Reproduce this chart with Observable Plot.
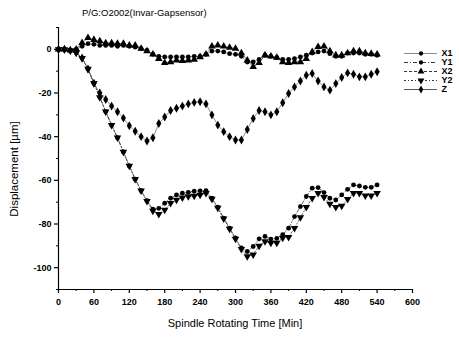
<!DOCTYPE html>
<html><head><meta charset="utf-8">
<script src="https://cdn.jsdelivr.net/npm/d3@7"></script>
<script src="https://cdn.jsdelivr.net/npm/@observablehq/plot@0.6"></script>
<style>
body{margin:0;background:#fff;}
#wrap{position:relative;width:459px;height:338px;font-family:"Liberation Sans",Arial,sans-serif;color:#000;}
#wrap svg{position:absolute;left:0;top:0;}
.t{position:absolute;white-space:nowrap;line-height:1;}
</style></head><body><div id="wrap"></div>
<script>
const time = [0,10,20,30,40,50,60,70,80,90,100,110,120,130,140,150,160,170,180,190,200,210,220,230,240,250,260,270,280,290,300,310,320,330,340,350,360,370,380,390,400,410,420,430,440,450,460,470,480,490,500,510,520,530,540];
const seriesNames = ["X1","Y1","X2","Y2","Z"];
const X1 = [0,0,-0.5,0,1.4, 2.6,2.3,1.8,1.8,1.8, 1.4,1.8,1.4,1,0.3, -0.5,-2.3,-3.2,-3.5,-3.5, -3.5,-3.5,-3.5,-3.2,-3.2, -2.3,-0.8,-0.8,-1.2,-2, -2.3,-3.2,-5.8,-5.8,-4.6, -2.7,-3.2,-3.8,-4.6,-4.6, -4.3,-3.5,-2.7,-1.7,-1.2, -0.8,-2,-3.2,-3.2,-1.7, -1.7,-1.7,-2.3,-2.3,-2.7];
const Y1 = [0,0,-0.5,-1.5,-4, -9,-15.5,-22,-28.5,-34.7, -40.5,-47,-53.4,-59.5,-64.7, -69.3,-73.2,-72.8,-70.5,-68.2, -66.7,-65.9,-65.5,-65,-64.8, -64.7,-68.2,-72.3,-77.3,-81.9, -86.4,-91,-92.6,-90.3,-86.8, -85.7,-86.9,-86.6,-84.9,-81.9, -76.6,-72,-67.4,-63.6,-63.3, -65.6,-68.2,-69,-66.7,-64.1, -62.1,-62.6,-63.2,-63.2,-62.1];
const X2 = [0,0,-0.5,0,3, 5.3,4.4,3.8,2.9,2.9, 2.6,2.6,1.8,1.8,0.3, -0.8,-2.3,-4.3,-6.2,-5.8, -5,-5.3,-5,-4.7,-3.5, -2.3,1.4,1.8,1.4,0.8, 0.3,-1.7,-5,-8,-6.2, -2.7,-3.2,-3.8,-5.8,-6.2, -5.8,-5.8,-4.3,-1.2,1.1, 1.4,-0.8,-2.7,-2.7,-1.7, -0.8,-0.8,-1.7,-2,-2.3];
const Y2 = [0,0,-0.5,-1.5,-4, -9,-15.5,-22,-28.5,-34.7, -40.5,-47,-53.4,-59.5,-64.7, -69.5,-74,-75.5,-73.5,-70.5, -69,-67.9,-67.4,-67.1,-66.7, -65.9,-68.5,-72.6,-77.6,-82.2, -86.8,-91.5,-94.8,-94,-90, -88,-88.7,-88.7,-86.4,-86, -81.9,-77,-72.3,-68.2,-65.9, -67.7,-70.8,-72.3,-71.7,-68.6, -65.9,-65.9,-67,-67,-65.9];
const Z = [0,0,-0.5,-1.5,-4, -9,-15.5,-20,-23,-26, -28.6,-31.5,-35,-37.5,-40, -42,-40.5,-34,-31,-28, -27,-26,-25,-24.3,-24, -25,-30,-34.7,-37.7,-40, -41.5,-41.5,-36.7,-31.7,-28, -28.6,-30,-28.6,-24.5,-20.2, -17.2,-14.5,-11.9,-11.1,-14.5, -17.2,-18.7,-15.7,-12.9,-10.8, -11.4,-12.6,-12.6,-11.4,-10.3];
const xTicks = [0,60,120,180,240,300,360,420,480,540,600];
const xMinor = [30,90,150,210,270,330,390,450,510,570];
const yTicks = [0,-20,-40,-60,-80,-100];
const yMinor = [10,-10,-30,-50,-70,-90,-110];
const titleText = "P/G:O2002(Invar-Gapsensor)";
const xLabel = "Spindle Rotating Time [Min]";
const yLabel = "Displacement [µm]";

const values = {X1, Y1, X2, Y2, Z};
const triDown = {draw(ctx, size){const y = -Math.sqrt(size / (Math.sqrt(3) * 3)); ctx.moveTo(0, -y*2); ctx.lineTo(Math.sqrt(3)*y, y); ctx.lineTo(-Math.sqrt(3)*y, y); ctx.closePath();}};
const styles = {
  X1: {symbol: "circle", r: 2.4, stroke: "#8a8a8a", dash: null, w: 0.9},
  Y1: {symbol: "circle", r: 2.4, stroke: "#222", dash: "4,2,1,2", w: 0.7},
  X2: {symbol: "triangle", r: 2.8, stroke: "#222", dash: "3,2", w: 0.7},
  Y2: {symbol: triDown, r: 2.8, stroke: "#222", dash: "2,2,1,2", w: 0.7},
  Z:  {symbol: "diamond", r: 2.7, stroke: "#444", dash: null, w: 0.6}
};
const rows = seriesNames.flatMap(n => time.map((t, j) => ({series: n, t, v: values[n][j]})));

const wrap = document.getElementById("wrap");
const seriesMarks = seriesNames.flatMap(n => {
  const d = rows.filter(r => r.series === n);
  const s = styles[n];
  return [
    Plot.line(d, {x: "t", y: "v", stroke: s.stroke, strokeWidth: s.w, strokeDasharray: s.dash}),
    Plot.dot(d, {x: "t", y: "v", symbol: s.symbol, r: s.r, fill: "#000", stroke: "none"})
  ];
});

const main = Plot.plot({
  width: 459, height: 338,
  marginLeft: 58, marginRight: 47, marginTop: 27, marginBottom: 49,
  x: {domain: [0, 600]},
  y: {domain: [-110, 10]},
  style: {fontFamily: "'Liberation Sans', Arial, sans-serif", fontSize: "9px", fontWeight: "bold", background: "transparent", overflow: "visible"},
  marks: [
    Plot.axisX({ticks: xTicks, tickSize: 4, tickPadding: 5, label: null, tickFormat: d => String(d), strokeWidth: 1.2}),
    Plot.axisX({ticks: xMinor, tickSize: 2, label: null, tickFormat: () => ""}),
    Plot.axisY({ticks: yTicks, tickSize: 4, tickPadding: 3, label: null, tickFormat: d => String(d), strokeWidth: 1.2}),
    Plot.axisY({ticks: yMinor, tickSize: 2, label: null, tickFormat: () => ""}),
    Plot.ruleX([0], {strokeWidth: 1.2}),
    Plot.ruleY([-110], {strokeWidth: 1.2}),
    ...seriesMarks
  ]
});
wrap.appendChild(main);

// legend
const legendRows = seriesNames.map(n => ({n, a: 0, b: 1, m: 0.5}));
const legendMarks = seriesNames.flatMap(n => {
  const s = styles[n];
  const d = legendRows.filter(r => r.n === n);
  return [
    Plot.ruleY(d, {y: "n", x1: "a", x2: "b", stroke: s.stroke, strokeWidth: n === "X1" ? 1.2 : 0.9, strokeDasharray: s.dash}),
    Plot.dot(d, {x: "m", y: "n", symbol: s.symbol, r: s.r * 0.9, fill: "#000", stroke: "none"})
  ];
});
const legend = Plot.plot({
  width: 55, height: 58, marginLeft: 0, marginRight: 22, marginTop: 0, marginBottom: 0,
  x: {domain: [0, 1], axis: null},
  y: {type: "point", domain: seriesNames, range: [4, 50], axis: null},
  style: {fontFamily: "'Liberation Sans', Arial, sans-serif", fontSize: "9px", fontWeight: "bold", background: "transparent", overflow: "visible"},
  marks: [
    ...legendMarks,
    Plot.text(legendRows, {x: "b", y: "n", text: "n", dx: 4, textAnchor: "start", lineAnchor: "middle"})
  ]
});
legend.style.left = "404px";
legend.style.top = "44px";
wrap.appendChild(legend);

function addText(txt, css) {
  const el = document.createElement("div");
  el.className = "t";
  el.textContent = txt;
  Object.assign(el.style, css);
  wrap.appendChild(el);
}
addText(titleText, {left: "82px", top: "8px", fontSize: "9.5px"});
addText(xLabel, {left: "235px", top: "318px", fontSize: "11px", transform: "translateX(-50%)"});
addText(yLabel, {left: "15px", top: "169px", fontSize: "11.5px", transform: "translate(-50%,-50%) rotate(-90deg)"});
</script>
</body></html>
